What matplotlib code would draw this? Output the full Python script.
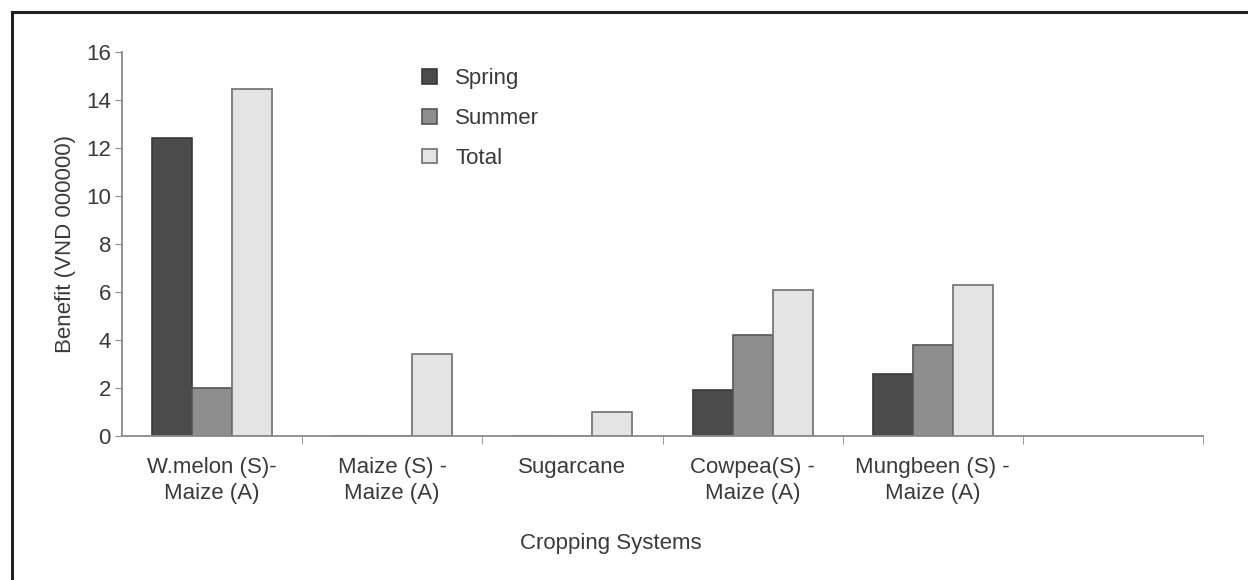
import matplotlib
matplotlib.use("Agg")
import matplotlib.pyplot as plt
import numpy as np
from matplotlib.lines import Line2D

plt.rcParams['font.family'] = ['Liberation Sans', 'DejaVu Sans']

systems = ["W.melon (S)-\nMaize (A)", "Maize (S) -\nMaize (A)", "Sugarcane",
           "Cowpea(S) -\nMaize (A)", "Mungbeen (S) -\nMaize (A)", ""]
spring = [12.4, 0.0, 0.0, 1.9, 2.6]
summer = [2.0, 0.0, 0.0, 4.2, 3.8]
total = [14.45, 3.4, 1.0, 6.1, 6.3]
series_names = ["Spring", "Summer", "Total"]

W, H = 1248, 580
FS = 16
fig = plt.figure(figsize=(W / 100, H / 100), dpi=100)
ax = fig.add_axes([122 / W, 1 - 436 / H, (1203 - 122) / W, (436 - 52) / H])

text_col = "#3a3a3a"
spine_col = "#8a8a8a"
colors = ["#4b4b4b", "#8e8e8e", "#e4e4e4"]
edges = ["#3a3a3a", "#555555", "#6e6e6e"]

x = np.arange(len(spring))
bw = 0.222
offsets = [-bw, 0.0, bw]
handles = []
for vals, off, c, ec, name in zip([spring, summer, total], offsets, colors, edges, series_names):
    b = ax.bar(x + off, vals, width=bw, color=c, edgecolor=ec, linewidth=1.2, label=name)
    handles.append(b)

ax.set_xlim(-0.5, len(systems) - 0.5)
ax.set_ylim(0, 16)
ax.set_yticks(np.arange(0, 17, 2))
ax.set_xticks(np.arange(len(systems)))
ax.set_xticklabels(systems, fontsize=FS, color=text_col, linespacing=1.3)
ax.set_xticks(np.arange(len(systems)) + 0.5, minor=True)
ax.tick_params(axis='x', which='major', length=0, pad=15)
ax.tick_params(axis='x', which='minor', length=6, color=spine_col, direction='out')
ax.tick_params(axis='y', length=5, color=spine_col, labelsize=FS, labelcolor=text_col, pad=3)

for s in ["top", "right"]:
    ax.spines[s].set_visible(False)
for s in ["left", "bottom"]:
    ax.spines[s].set_color(spine_col)
    ax.spines[s].set_linewidth(1.3)

ax.set_ylabel("Benefit (VND 000000)", fontsize=FS, color=text_col, labelpad=7)
fig.text(611 / W, 1 - 543 / H, "Cropping Systems", fontsize=FS, color=text_col,
         ha="center", va="center")

leg = fig.legend(handles=handles, labels=series_names, loc="upper left",
                 bbox_to_anchor=(411 / W, 1 - 57 / H), frameon=False,
                 fontsize=FS, handlelength=0.65, handleheight=0.65,
                 handletextpad=0.85, labelspacing=0.85, borderpad=0)
for t in leg.get_texts():
    t.set_color(text_col)

# outer frame along the top and left edges
fig.add_artist(Line2D([12 / W, 12 / W], [0, 1 - 12 / H], transform=fig.transFigure,
                      color="#222222", linewidth=2.2))
fig.add_artist(Line2D([12 / W, 1], [1 - 12 / H, 1 - 12 / H], transform=fig.transFigure,
                      color="#222222", linewidth=2.2))

fig.savefig("out.png", dpi=100)
